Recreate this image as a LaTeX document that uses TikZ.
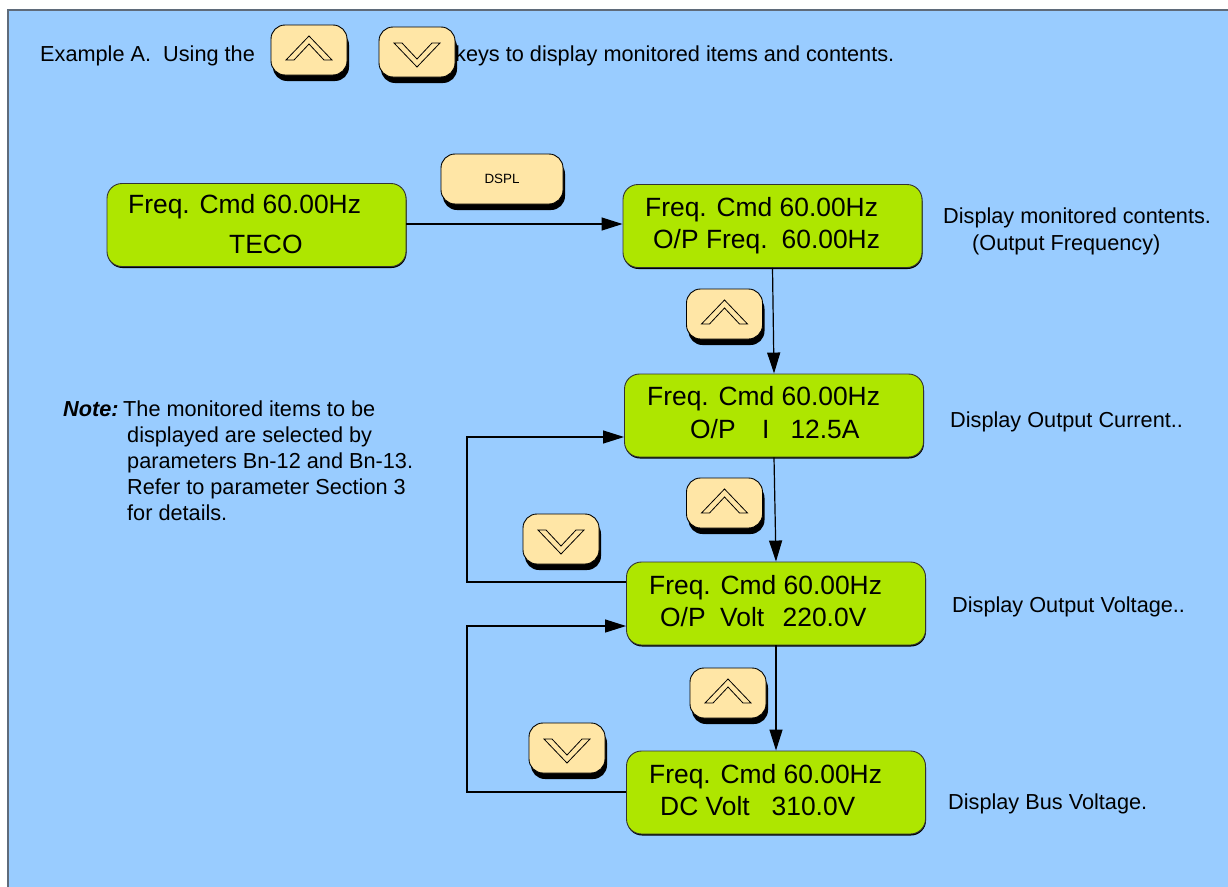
\documentclass[tikz,border=0pt]{standalone}
\usepackage{fontspec}
\setmainfont{Liberation Sans}
\usetikzlibrary{arrows.meta,shadows}
\definecolor{bgblue}{HTML}{99CCFF}
\definecolor{lcdgreen}{HTML}{AEE600}
\definecolor{keyfill}{HTML}{FFE6A6}
\definecolor{framegray}{HTML}{5F6B7A}
\newcommand{\upchev}[1]{\draw[chev,shift={(#1.center)}] (-23,10) -- (0,-14) -- (23,10) -- (15,10) -- (0,-6) -- (-15,10) -- cycle;}
\newcommand{\downchev}[1]{\draw[chev,shift={(#1.center)}] (-23,-9) -- (0,15) -- (23,-9) -- (15,-9) -- (0,7) -- (-15,-9) -- cycle;}
\begin{document}
\begin{tikzpicture}[x=1pt,y=-1pt,
  lcd/.style={draw=black!80, line width=0.9pt, fill=lcdgreen, rounded corners=15pt,
    minimum width=299pt, minimum height=83pt, inner sep=0pt,
    drop shadow={opacity=1, fill=black, shadow xshift=0.5pt, shadow yshift=-1.5pt}},
  lcdtext/.style={anchor=base west, inner sep=0pt, font=\fontsize{26.4}{30}\selectfont},
  plain/.style={anchor=base west, inner sep=0pt, font=\fontsize{21.7}{26}\selectfont},
  keybox/.style={draw=black, line width=0.9pt, fill=keyfill, rounded corners=14pt,
    minimum width=76pt, minimum height=50pt, inner sep=0pt,
    drop shadow={opacity=1, fill=black, shadow xshift=2pt, shadow yshift=-6pt}},
  chev/.style={draw=black, line width=0.8pt, fill=keyfill, line join=miter},
  arr/.style={draw=black, line width=1.2pt, -{Triangle[length=21pt,width=13pt]}},
  conn/.style={draw=black, line width=1.2pt}
]
\useasboundingbox (0,0) rectangle (1228,886);
% background
\fill[bgblue] (8,10) rectangle (1240,900);
\draw[framegray, line width=2pt] (8,900) -- (8,10) -- (1240,10);

% title
\node[plain] (t1) at (40,61) {Example A.\hspace{6pt} Using the};
\node[plain] (t2) at (455,61) {keys to display monitored items and contents.};
\node[keybox] (ku0) at (309,50) {};
\upchev{ku0}
\node[keybox] (kd0) at (417,52) {};
\downchev{kd0}

% LCD boxes
\node[lcd] (b1) at (256.5,225) {};
\node[lcd] (b2) at (772.5,226) {};
\node[lcd] (b3) at (774,415.5) {};
\node[lcd] (b4) at (776,603.5) {};
\node[lcd] (b5) at (776,792.5) {};

\node[lcdtext] (b1a) at (128,213) {Freq. Cmd 60.00Hz};
\node[lcdtext] (b1b) at (229,253) {TECO};
\node[lcdtext] (b2a) at (645,216) {Freq. Cmd 60.00Hz};
\node[lcdtext] (b2b) at (653,248) {O/P Freq.\hspace{14pt}60.00Hz};
\node[lcdtext] (b3a) at (647,405) {Freq. Cmd 60.00Hz};
\node[lcdtext] (b3b) at (690,438) {O/P\hspace{26.5pt}I\hspace{21pt}12.5A};
\node[lcdtext] (b4a) at (649,594) {Freq. Cmd 60.00Hz};
\node[lcdtext] (b4b) at (660,626) {O/P\hspace{14.5pt}Volt\hspace{18.5pt}220.0V};
\node[lcdtext] (b5a) at (649,783) {Freq. Cmd 60.00Hz};
\node[lcdtext] (b5b) at (660,815) {DC Volt\hspace{22pt}310.0V};

% right labels
\node[plain] (r1) at (943,223) {Display monitored contents.};
\node[plain] (r1b) at (972,250) {(Output Frequency)};
\node[plain] (r2) at (950,427) {Display Output Current..};
\node[plain] (r3) at (952,612) {Display Output Voltage..};
\node[plain] (r4) at (948,809) {Display Bus Voltage.};

% note
\node[plain, font=\fontsize{21.7}{26}\selectfont\bfseries\itshape] (nt) at (63,416) {Note:};
\node[plain] (n1) at (123,416) {The monitored items to be};
\node[plain] (n2) at (127,442) {displayed are selected by};
\node[plain] (n3) at (127,468) {parameters Bn-12 and Bn-13.};
\node[plain] (n4) at (127,494) {Refer to parameter Section 3};
\node[plain] (n5) at (127,520) {for details.};

% keys
\node[keybox, minimum width=122pt] (kds) at (502,179) {};
\node[inner sep=0pt, font=\fontsize{13.4}{15}\selectfont] (kdst) at (kds.center) {DSPL};
\node[keybox] (ku1) at (724.5,314) {};
\upchev{ku1}
\node[keybox] (ku2) at (724.5,503) {};
\upchev{ku2}
\node[keybox] (kd1) at (561,539) {};
\downchev{kd1}
\node[keybox] (ku3) at (728,693) {};
\upchev{ku3}
\node[keybox] (kd2) at (567,748) {};
\downchev{kd2}

% connectors
\coordinate (h1) at (0,224);
\draw[arr] (b1.east |- h1) -- (b2.west |- h1);
\draw[arr] (b2.south) -- (b3.north);
\draw[arr] (b3.south) -- (b4.north);
\draw[arr] (b4.south) -- (b5.north);
\coordinate (la) at (467,582);
\coordinate (lb) at (467,437);
\draw[arr] (la -| b4.west) -- (la) -- (lb) -- (lb -| b3.west);
\coordinate (lc) at (467,792);
\coordinate (ld) at (467,626);
\draw[arr] (lc -| b5.west) -- (lc) -- (ld) -- (ld -| b4.west);
\end{tikzpicture}
\end{document}
